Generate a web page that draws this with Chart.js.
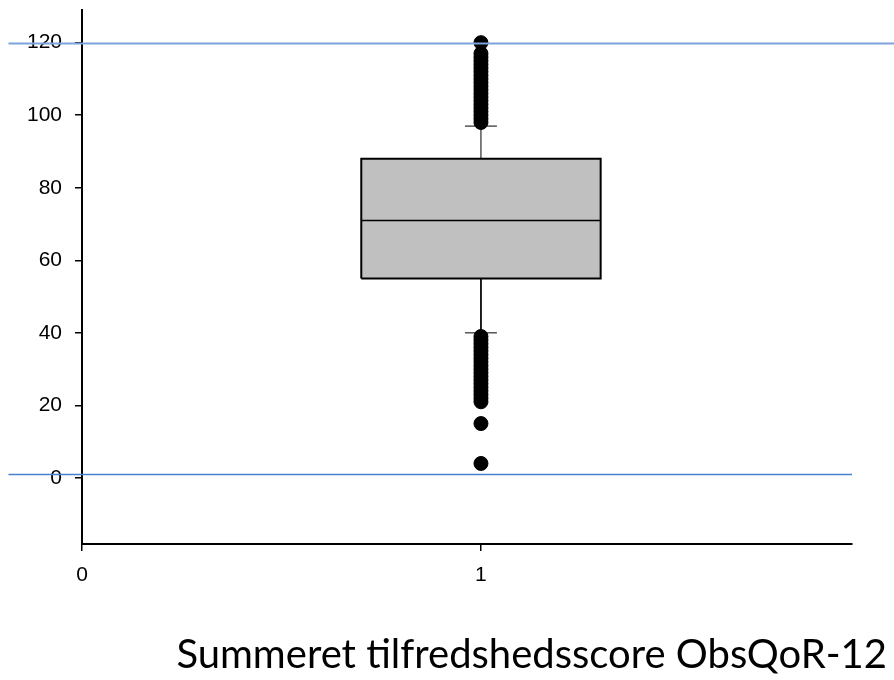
<!DOCTYPE html>
<html>
<head>
<meta charset="utf-8">
<script src="https://cdn.jsdelivr.net/npm/chart.js@4.4.1/dist/chart.umd.min.js"></script>
<style>
    html, body { margin: 0; padding: 0; background: #fff; }
    #wrap { position: relative; width: 894px; height: 680px; }
    #title {
        position: absolute; right: 7px; top: 633px;
        font-family: Lato, "Open Sans", sans-serif; font-size: 40px;
        line-height: 1; color: #000; white-space: nowrap;
    }
</style>
</head>
<body>
<div id="wrap">
    <canvas id="chart" width="894" height="680"></canvas>
    <div id="title">Summeret tilfredshedsscore ObsQoR-12</div>
</div>
<script>
// ============= DATA =============
const groups = [1];
const q1 = [55];
const median = [71];
const q3 = [88];
const whiskerLow = [40];
const whiskerHigh = [97];
const outliersHigh = [98, 99, 100, 101, 102, 103, 104, 105, 106, 107, 108, 109, 110, 111, 112, 113, 114, 115, 116, 117, 120];
const outliersLow = [39, 38, 37, 36, 35, 34, 33, 32, 31, 30, 29, 28, 27, 26, 25, 24, 23, 22, 21, 15, 4];
const xTicks = [0, 1];
const yTicks = [0, 20, 40, 60, 80, 100, 120];
const refLines = [120, 1];

// box geometry in axis units
const BOX_HALF = 0.3;
const CAP_HALF = 0.04;

const tickFont = { family: '"Liberation Sans", Arial, sans-serif', size: 21 };

// ============= BUILD DATASETS =============
function seg(x1, y1, x2, y2) {
    return [{ x: x1, y: y1 }, { x: x2, y: y2 }];
}

function lineSet(data, width, order) {
    return {
        data: data,
        showLine: true,
        borderColor: '#000',
        borderWidth: width,
        pointRadius: 0,
        fill: false,
        order: order
    };
}

const datasets = [];
groups.forEach((g, i) => {
    const l = g - BOX_HALF, r = g + BOX_HALF;
    // filled box (top line fills down to bottom line)
    datasets.push({
        data: seg(l, q3[i], r, q3[i]), showLine: true, borderWidth: 0,
        pointRadius: 0, backgroundColor: '#c0c0c0', fill: '+1', order: 9
    });
    datasets.push({
        data: seg(l, q1[i], r, q1[i]), showLine: true, borderWidth: 0,
        pointRadius: 0, fill: false, order: 10
    });
    // outline
    datasets.push(lineSet([
        { x: l, y: q1[i] }, { x: r, y: q1[i] }, { x: r, y: q3[i] },
        { x: l, y: q3[i] }, { x: l, y: q1[i] }
    ], 2, 2));
    datasets.push(lineSet(seg(l, median[i], r, median[i]), 1.5, 2));
    // whiskers and caps
    datasets.push(lineSet(seg(g, q3[i], g, whiskerHigh[i]), 1, 3));
    datasets.push(lineSet(seg(g - CAP_HALF, whiskerHigh[i], g + CAP_HALF, whiskerHigh[i]), 1, 3));
    datasets.push(lineSet(seg(g, q1[i], g, whiskerLow[i]), 1, 3));
    datasets.push(lineSet(seg(g - CAP_HALF, whiskerLow[i], g + CAP_HALF, whiskerLow[i]), 1, 3));
    // outliers
    datasets.push({
        data: outliersHigh.concat(outliersLow).map(v => ({ x: g, y: v })),
        showLine: false,
        pointRadius: 7,
        pointBorderWidth: 1,
        pointBackgroundColor: '#000',
        pointBorderColor: '#000',
        order: 0
    });
});

// ============= REFERENCE LINES PLUGIN =============
const refLinePlugin = {
    id: 'refLines',
    afterDraw(chart) {
        const ctx = chart.ctx;
        const y = chart.scales.y;
        const colors = ['#7ea2dc', '#4a7fd0'];
        const rightEnds = [chart.width, chart.chartArea.right];
        ctx.save();
        refLines.forEach((v, i) => {
            const py = Math.round(y.getPixelForValue(v)) + 0.5;
            ctx.strokeStyle = colors[i];
            ctx.lineWidth = i === 0 ? 2 : 1.5;
            ctx.beginPath();
            ctx.moveTo(8.5, py);
            ctx.lineTo(rightEnds[i], py);
            ctx.stroke();
        });
        ctx.restore();
    }
};

// ============= CHART =============
new Chart(document.getElementById('chart'), {
    type: 'scatter',
    data: { datasets: datasets },
    options: {
        responsive: false,
        animation: false,
        layout: { padding: { top: 10, right: 42, left: 0, bottom: 0 } },
        plugins: {
            legend: { display: false },
            tooltip: { enabled: false }
        },
        scales: {
            x: {
                type: 'linear',
                min: 0,
                max: 1.93,
                afterBuildTicks: s => { s.ticks = xTicks.map(v => ({ value: v })); },
                afterFit: s => { s.height = 136; s.paddingLeft = 0; s.paddingRight = 0; },
                grid: { drawOnChartArea: false, drawTicks: true, tickLength: 7, color: '#000', lineWidth: 1.5 },
                border: { display: true, color: '#000', width: 2 },
                ticks: { font: tickFont, color: '#000', padding: 12, maxRotation: 0 }
            },
            y: {
                type: 'linear',
                min: -18.2,
                max: 129,
                afterBuildTicks: s => { s.ticks = yTicks.map(v => ({ value: v })); },
                afterFit: s => { s.width = 82; s.paddingTop = 0; s.paddingBottom = 0; },
                grid: { drawOnChartArea: false, drawTicks: true, tickLength: 7, color: '#000', lineWidth: 1.5 },
                border: { display: true, color: '#000', width: 2 },
                ticks: { font: tickFont, color: '#000', padding: 13 }
            }
        }
    },
    plugins: [refLinePlugin]
});
</script>
</body>
</html>
